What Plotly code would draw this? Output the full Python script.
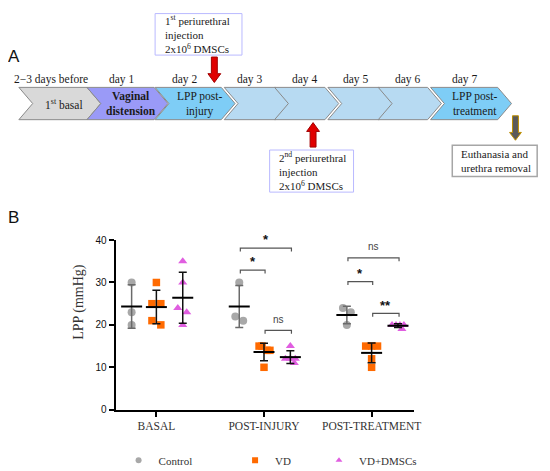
import numpy as np
import plotly.graph_objects as go

W, H = 550, 471

# ---------------- data ----------------
timepoints = ["BASAL", "POST-INJURY", "POST-TREATMENT"]
groups = ["Control", "VD", "VD+DMSCs"]

control_basal = [30, 23, 20]
control_injury = [30, 22, 21]
control_treat = [24, 23, 20]

vd_basal = [30, 25, 25, 21, 20]
vd_injury = [15, 15, 14, 14, 10]
vd_treat = [15, 15, 15, 12, 10]

dmsc_basal = [35, 30, 24, 23, 20]
dmsc_injury = [15, 12, 12, 12, 11]
dmsc_treat = [20, 20, 20, 20, 19]

# significance: (timepoint, group_a, group_b, level, label)
sig_time = [1, 1, 1, 2, 2, 2]
sig_a = [0, 0, 1, 0, 0, 1]
sig_b = [1, 2, 2, 2, 1, 2]
sig_level = [32.9, 38.1, 18.7, 35.8, 30.2, 22.7]
sig_label = ["*", "*", "ns", "ns", "*", "**"]

# ---------------- styling ----------------
group_values = [
    [control_basal, control_injury, control_treat],
    [vd_basal, vd_injury, vd_treat],
    [dmsc_basal, dmsc_injury, dmsc_treat],
]
group_offset = [-0.23, 0.0, 0.245]
jitter_px = [
    [[0, 0, 0], [0, -4, 4], [-4, 4, 0]],
    [[0, -4.5, 4.5, -4.5, 4.5], [-5, -2, 3, 6, 0], [-6, 0, 6, 0, 0]],
    [[0, 0, -5, 4, 0], [0, -5, 0, 5, 4], [-6, -2, 2, 6, 4]],
]
PX_PER_UNIT = 109.0
colors = ["#a8a8a8", "#ff6a00", "#e05ee0"]
symbols = ["circle", "square", "triangle-up"]
sizes = [8, 7.5, 8]
err_colors = ["#6a6a6a", "#111111", "#111111"]

SERIF = "Liberation Serif"
SANS = "Liberation Sans"

# the page body keeps its default 8px margin: lay everything out 8px up/left
OFF = 8

def PX(x):
    return (x - OFF) / W

def PY(y):
    return 1 - (y - OFF) / H

fig = go.Figure()

for g in range(3):
    xs, ys = [], []
    mx, my, sd = [], [], []
    for t in range(3):
        vals = group_values[g][t]
        for v, j in zip(vals, jitter_px[g][t]):
            xs.append(t + group_offset[g] + j / PX_PER_UNIT)
            ys.append(v)
        mx.append(t + group_offset[g])
        my.append(float(np.mean(vals)))
        sd.append(float(np.std(vals, ddof=1)))
    fig.add_trace(go.Scatter(
        x=xs, y=ys, mode="markers", showlegend=False, cliponaxis=False, name=groups[g],
        marker=dict(color=colors[g], symbol=symbols[g], size=sizes[g], line=dict(width=0)),
    ))
    fig.add_trace(go.Scatter(
        x=mx, y=my, mode="markers", showlegend=False, cliponaxis=False, name=groups[g] + " mean",
        marker=dict(symbol="line-ew", size=15, color="black",
                    line=dict(color="black", width=2)),
        error_y=dict(type="data", array=sd, visible=True, color=err_colors[g],
                     thickness=1.5, width=4),
    ))
    # legend-only entry
    fig.add_trace(go.Scatter(
        x=[None], y=[None], mode="markers", name=groups[g],
        legend=["legend", "legend2", "legend3"][g],
        marker=dict(color=colors[g], symbol=symbols[g], size=6),
    ))

# significance brackets
drop = 0.8
for t, a, b, lvl, lab in zip(sig_time, sig_a, sig_b, sig_level, sig_label):
    x1 = t + group_offset[a] + 0.01
    x2 = t + group_offset[b] + 0.01
    fig.add_shape(type="path", xref="x", yref="y",
                  path=f"M {x1},{lvl-drop} L {x1},{lvl} L {x2},{lvl} L {x2},{lvl-drop}",
                  line=dict(color="#555555", width=1.2))
    if lab == "ns":
        fig.add_annotation(x=(x1 + x2) / 2, y=lvl + 2.6, xref="x", yref="y", text="ns",
                           showarrow=False, font=dict(family=SANS, size=10, color="#444444"))
    else:
        fig.add_annotation(x=(x1 + x2) / 2, y=lvl - 0.3, xref="x", yref="y", text="<b>" + lab + "</b>",
                           showarrow=False, yanchor="bottom",
                           font=dict(family=SANS, size=13, color="#111111"))

# ---------------- panel A (diagram) ----------------
def path_from(points):
    s = []
    for i, (x, y) in enumerate(points):
        s.append(("M" if i == 0 else "L") + f" {PX(x):.5f},{PY(y):.5f}")
    return " ".join(s) + " Z"

def text(x, y, t, size=11, family=SERIF, color="#1a1a1a", xanchor="center", align="center"):
    fig.add_annotation(x=PX(x), y=PY(y), xref="paper", yref="paper", text=t, showarrow=False,
                       xanchor=xanchor, yanchor="middle", align=align,
                       font=dict(family=family, size=size, color=color))

yt, yb = 84, 117
ym = (yt + yb) / 2
d = 14
chevrons = [
    (19, 102, "#d9d9d9", "1<sup>st</sup> basal"),
    (88, 170, "#9a9af7", "<b>Vaginal<br>distension</b>"),
    (157, 238, "#7ecdf6", "LPP post-<br>injury"),
    (227, 293, "#b7daf2", ""),
    (278, 343, "#b7daf2", ""),
    (332, 398, "#b7daf2", ""),
    (383, 447, "#b7daf2", ""),
    (436, 518, "#7ecdf6", "LPP post-<br>treatment"),
]
for L, R, col, lab in chevrons:
    pts = [(L, yt), (R - d, yt), (R, ym), (R - d, yb), (L, yb), (L + d, ym)]
    fig.add_shape(type="path", xref="paper", yref="paper", path=path_from(pts),
                  fillcolor=col, line=dict(color="#8a8a8a", width=1), layer="below")
    if lab:
        text((L + R) / 2 + 4, ym, lab, size=11.5)

day_labels = ["2\u22123 days before", "day 1", "day 2", "day 3", "day 4", "day 5", "day 6", "day 7"]
day_x = [52, 123, 187, 253, 308, 360, 413, 470]
for dx, dl in zip(day_x, day_labels):
    text(dx, 76, dl, size=11.5)

# panel letters
text(14, 52, "A", size=17, family=SANS, color="#111111")
text(14, 217, "B", size=17, family=SANS, color="#111111")

def box(x0, y0, x1, y1, color, lw=1):
    fig.add_shape(type="rect", xref="paper", yref="paper", x0=PX(x0), y0=PY(y1), x1=PX(x1), y1=PY(y0),
                  fillcolor="white", line=dict(color=color, width=lw))

def arrow(x, y_tail, y_tip, color, edge, shaft=6, head=13, hl=9):
    s = 1 if y_tip > y_tail else -1
    yh = y_tip - s * hl
    pts = [(x - shaft / 2, y_tail), (x + shaft / 2, y_tail), (x + shaft / 2, yh), (x + head / 2, yh),
           (x, y_tip), (x - head / 2, yh), (x - shaft / 2, yh)]
    fig.add_shape(type="path", xref="paper", yref="paper", path=path_from(pts),
                  fillcolor=color, line=dict(color=edge, width=1))

box(157, 8.6, 245, 51, "#b9b9ff")
text(165, 29.5, "1<sup>st</sup> periurethral<br>injection<br>2x10<sup>6</sup> DMSCs", size=11,
     xanchor="left", align="left")
arrow(217, 53, 79, "#e00000", "#a00000")

box(273, 148, 358, 191, "#b9b9ff")
text(280, 169.5, "2<sup>nd</sup> periurethral<br>injection<br>2x10<sup>6</sup> DMSCs", size=11,
     xanchor="left", align="left")
arrow(317, 145, 120, "#e00000", "#a00000")

box(458, 143, 544, 175, "#a6a6a6", lw=1.5)
text(465, 159, "Euthanasia and<br>urethra removal", size=11, xanchor="left", align="left")
arrow(522, 113, 138, "#5a5a5a", "#bf9000", shaft=6, head=12, hl=8)

# y-axis title
fig.add_annotation(x=PX(80), y=PY(303), xref="paper", yref="paper", text="LPP (mmHg)",
                   textangle=-90, showarrow=False, xanchor="center", yanchor="middle",
                   font=dict(family=SERIF, size=14, color="#333333"))

# ---------------- layout ----------------
r0 = -(158.3 - 117) / PX_PER_UNIT
r1 = r0 + (419 - 117) / PX_PER_UNIT

leg_common = dict(orientation="h", yanchor="middle", xanchor="left", bgcolor="rgba(0,0,0,0)",
                  font=dict(family=SERIF, size=11, color="#333333"), itemclick=False)

fig.update_layout(
    width=W, height=H,
    margin=dict(l=0, r=0, t=0, b=0),
    paper_bgcolor="white", plot_bgcolor="white",
    showlegend=True,
    legend=dict(x=PX(141 - 21), y=PY(465), **leg_common),
    legend2=dict(x=PX(259 - 21), y=PY(465), **leg_common),
    legend3=dict(x=PX(344 - 21), y=PY(465), **leg_common),
    xaxis=dict(domain=[PX(117), PX(419)], range=[r0, r1], showgrid=False, zeroline=False,
               showline=True, linewidth=2, linecolor="black",
               ticks="outside", ticklen=5, tickwidth=2, tickcolor="black",
               tickvals=[0, 1, 2], ticktext=timepoints,
               tickfont=dict(family=SERIF, size=11.5, color="#333333")),
    yaxis=dict(domain=[PY(413.3), PY(240)], range=[0, 40], showgrid=False, zeroline=False,
               showline=True, linewidth=2, linecolor="black",
               ticks="outside", ticklen=5, tickwidth=2, tickcolor="black",
               tickvals=[0, 10, 20, 30, 40],
               tickfont=dict(family=SANS, size=10, color="#111111")),
)

fig.write_html("out.html", config={"displayModeBar": False})
